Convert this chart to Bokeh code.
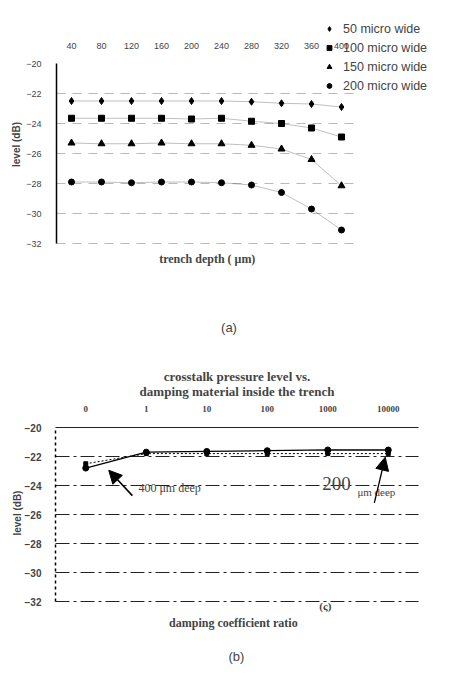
import math
from bokeh.plotting import figure
from bokeh.models import (Label, Arrow, NormalHead, Legend, LegendItem,
                          FixedTicker)
from bokeh.layouts import column
from bokeh.embed import file_html
from bokeh.resources import INLINE

# ---------------- data (a) ----------------
depths = [40, 80, 120, 160, 200, 240, 280, 320, 360, 400]
w50 = [-22.5, -22.5, -22.5, -22.5, -22.5, -22.5, -22.55, -22.65, -22.7, -22.9]
w100 = [-23.65, -23.65, -23.65, -23.65, -23.7, -23.65, -23.85, -24.0, -24.3, -24.9]
w150 = [-25.3, -25.35, -25.35, -25.3, -25.35, -25.35, -25.45, -25.7, -26.4, -28.15]
w200 = [-27.9, -27.9, -27.95, -27.9, -27.9, -27.95, -28.1, -28.6, -29.7, -31.1]
series_names = ["50 micro wide", "100 micro wide", "150 micro wide", "200 micro wide"]
y_ticks = [-32, -30, -28, -26, -24, -22, -20]

# ---------------- data (b) ----------------
ratio_labels = ["0", "1", "10", "100", "1000", "10000"]
ratio_pos = [0, 1, 2, 3, 4, 5]
deep400 = [-22.8, -21.7, -21.65, -21.6, -21.55, -21.55]
deep200 = [-22.5, -21.8, -21.8, -21.8, -21.8, -21.8]

SANS = "Liberation Sans"
SERIF = "Liberation Serif"
W = 441

# ---- layout helpers: the frame covers the whole canvas; axes are pinned ----
def ranges(px0, unit_x, x_at_px0, py0, unit_y, y_at_py0, width, height):
    xr = (x_at_px0 - px0 / unit_x, x_at_px0 + (width - px0) / unit_x)
    yr = (y_at_py0 - (height - py0) / unit_y, y_at_py0 + py0 / unit_y)
    return xr, yr

# ================= figure (a) =================
HA = 347
xa, ya = ranges(56, 0.75, 20, 63, 15, -20, W, HA)
fa = figure(width=W, height=HA, x_range=xa, y_range=ya,
            x_axis_location="above", output_backend="svg", toolbar_location=None,
            min_border=0)
fa.outline_line_color = None
fa.grid.visible = False

fa.xaxis.fixed_location = -20
fa.xaxis.bounds = (20, 420)
fa.xaxis.ticker = FixedTicker(ticks=depths)
fa.xaxis.axis_line_color = None
fa.xaxis.major_tick_line_color = None
fa.xaxis.minor_tick_line_color = None
fa.xaxis.major_label_text_font = SANS
fa.xaxis.major_label_text_font_size = "9px"
fa.xaxis.major_label_standoff = 9

fa.yaxis.fixed_location = 20
fa.yaxis.bounds = (-32, -20)
fa.yaxis.ticker = FixedTicker(ticks=y_ticks)
fa.yaxis.axis_line_color = "black"
fa.yaxis.axis_line_width = 1.5
fa.yaxis.major_tick_line_color = None
fa.yaxis.minor_tick_line_color = None
fa.yaxis.major_label_text_font = SANS
fa.yaxis.major_label_text_font_size = "9px"
fa.yaxis.major_label_standoff = 9

# faint dashed gridlines over the data area
ga = y_ticks[:-1]
fa.segment(x0=[20] * len(ga), y0=ga, x1=[420] * len(ga), y1=ga,
           line_color="#8a8a8a", line_dash="9 7", line_alpha=0.6)

markers = ["diamond", "square", "triangle", "circle"]
sizes = [7, 6, 7, 6]
rends = []
for vals, mk, sz in zip([w50, w100, w150, w200], markers, sizes):
    fa.line(depths, vals, line_color="black", line_width=1, line_alpha=0.25)
    r = fa.scatter(depths, vals, marker=mk, size=sz, fill_color="black",
                   line_color="black")
    rends.append(r)

leg = Legend(items=[LegendItem(label=n, renderers=[r]) for n, r in zip(series_names, rends)],
             location=(323, 252))
leg.background_fill_alpha = 0
leg.border_line_alpha = 0
leg.padding = 0
leg.margin = 0
leg.spacing = 0
leg.label_height = 19
leg.glyph_height = 19
leg.glyph_width = 12
leg.label_standoff = 8
leg.label_text_font = SANS
leg.label_text_font_size = "12.5px"
fa.add_layout(leg)

fa.add_layout(Label(x=-33.3, y=-25.4, text="level (dB)", angle=math.pi / 2,
                    text_align="center", text_baseline="middle",
                    text_font=SANS, text_font_style="bold", text_font_size="10px"))
fa.add_layout(Label(x=221, y=-33.0, text="trench depth ( μm)",
                    text_align="center", text_baseline="middle",
                    text_font=SERIF, text_font_style="bold", text_font_size="12px"))
fa.add_layout(Label(x=250, y=-37.6, text="(a)",
                    text_align="center", text_baseline="middle",
                    text_font=SANS, text_font_size="13px"))

# ================= figure (b) =================
HB = 691 - HA
# frame of data: x -0.5..5.5 at px 55..418, y -20 at page 427 (fig top at HA)
xb, yb = ranges(55, 60.5, -0.5, 427 - HA, 14.5, -20, W, HB)
fb = figure(width=W, height=HB, x_range=xb, y_range=yb,
            x_axis_location="above", output_backend="svg", toolbar_location=None,
            min_border=0)
fb.outline_line_color = None
fb.grid.visible = False

fb.xaxis.fixed_location = -20
fb.xaxis.bounds = (-0.5, 5.5)
fb.xaxis.ticker = FixedTicker(ticks=ratio_pos)
fb.xaxis.major_label_overrides = {p: l for p, l in zip(ratio_pos, ratio_labels)}
fb.xaxis.axis_line_color = None
fb.xaxis.major_tick_line_color = None
fb.xaxis.minor_tick_line_color = None
fb.xaxis.major_label_text_font = SERIF
fb.xaxis.major_label_text_font_style = "bold"
fb.xaxis.major_label_text_font_size = "9px"
fb.xaxis.major_label_standoff = 10

fb.yaxis.fixed_location = -0.5
fb.yaxis.bounds = (-32, -20)
fb.yaxis.ticker = FixedTicker(ticks=y_ticks)
fb.yaxis.axis_line_color = "black"
fb.yaxis.axis_line_width = 1.5
fb.yaxis.axis_line_dash = "3 3"
fb.yaxis.major_tick_line_color = None
fb.yaxis.minor_tick_line_color = None
fb.yaxis.major_label_text_font = SANS
fb.yaxis.major_label_text_font_style = "bold"
fb.yaxis.major_label_text_font_size = "10px"
fb.yaxis.major_label_standoff = 8

gb = y_ticks[:-1]
fb.segment(x0=[-0.5] * len(gb), y0=gb, x1=[5.5] * len(gb), y1=gb,
           line_color="#222222", line_dash="14 4 3 4", line_width=1)
fb.segment(x0=[-0.5], y0=[-20], x1=[5.5], y1=[-20], line_color="#222222", line_width=1)

fb.line(ratio_pos, deep200, line_color="black", line_width=1, line_dash="2 2")
fb.scatter(ratio_pos, deep200, marker="square", size=4, fill_color="black", line_color="black")
fb.line(ratio_pos, deep400, line_color="black", line_width=1.3)
fb.scatter(ratio_pos, deep400, marker="circle", size=6, fill_color="black", line_color="black")

fb.add_layout(Label(x=2.5, y=-16.45, text="crosstalk pressure level vs.",
                    text_align="center", text_baseline="middle",
                    text_font=SERIF, text_font_style="bold", text_font_size="13px"))
fb.add_layout(Label(x=2.5, y=-17.5, text="damping material inside the trench",
                    text_align="center", text_baseline="middle",
                    text_font=SERIF, text_font_style="bold", text_font_size="13px"))
fb.add_layout(Label(x=-1.13, y=-25.9, text="level (dB)", angle=math.pi / 2,
                    text_align="center", text_baseline="middle",
                    text_font=SANS, text_font_style="bold", text_font_size="10px"))
fb.add_layout(Label(x=2.44, y=-33.5, text="damping coefficient ratio",
                    text_align="center", text_baseline="middle",
                    text_font=SERIF, text_font_style="bold", text_font_size="12px"))
fb.add_layout(Label(x=3.96, y=-32.3, text="(ς)",
                    text_align="center", text_baseline="middle",
                    text_font=SERIF, text_font_style="bold", text_font_size="11px"))
fb.add_layout(Label(x=2.49, y=-35.8, text="(b)",
                    text_align="center", text_baseline="middle",
                    text_font=SANS, text_font_size="13px"))

fb.add_layout(Label(x=0.87, y=-24.15, text="400 μm deep",
                    text_align="left", text_baseline="middle",
                    text_font=SERIF, text_font_size="12px"))
fb.add_layout(Label(x=3.91, y=-23.85, text="200",
                    text_align="left", text_baseline="middle",
                    text_font=SERIF, text_font_size="19px"))
fb.add_layout(Label(x=4.49, y=-24.45, text="μm deep",
                    text_align="left", text_baseline="middle",
                    text_font=SERIF, text_font_size="11px"))

fb.add_layout(Arrow(end=NormalHead(size=13, fill_color="black", line_color="black"),
                    x_start=0.77, y_start=-24.7, x_end=0.38, y_end=-22.95,
                    line_color="black", line_width=1.6))
fb.add_layout(Arrow(end=NormalHead(size=13, fill_color="black", line_color="black"),
                    x_start=4.77, y_start=-25.2, x_end=4.95, y_end=-22.05,
                    line_color="black", line_width=1.3))

page = column(fa, fb, spacing=0)
with open("out.html", "w") as f:
    f.write(file_html(page, INLINE))
